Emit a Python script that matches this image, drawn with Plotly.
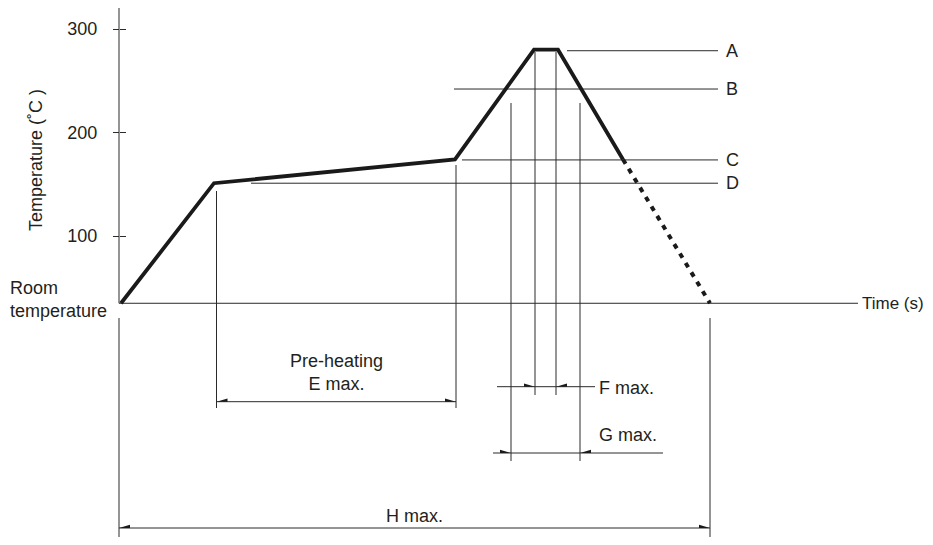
import plotly.graph_objects as go

# ---------------- data ----------------
# reflow profile: time (s, arbitrary scale) and temperature (deg C)
profile_time = [1, 47.5, 168, 207.5, 219.5, 252]
profile_temp = [35, 151, 174, 280, 280, 174]
cooling_time = [252, 295.5]          # dotted tail
cooling_temp = [174, 35]
room_temp = 35

level_names = ["A", "B", "C", "D"]
level_temps = [279, 242, 173.5, 151]
level_start = [224, 167.5, 171.5, 66]   # where each guide line starts (s)
level_end = 299.5

y_ticks = [100, 200, 300]

# dimension spans (s)
E_span = [48.75, 168.5]
F_span = [208, 218.5]
G_span = [196, 230.5]
H_span = [0, 295.5]

# ---------------- layout helpers (pixel <-> data) ----------------
PAGE_W, PAGE_H = 933, 545
BODY = 8                        # default page body margin
W, H = PAGE_W - BODY, PAGE_H - 2 * BODY   # keep the page free of scrollbars
X0, SX = 119.0, 2.0           # page px of t=0, px per second
PY100, SY = 236.0, 1.035      # page px of 100 degC, px per degC


def tx(px):   # page pixel x -> time
    return (px - X0) / SX


def ty(py):   # page pixel y -> temperature
    return 100 + (PY100 - py) / SY


INK = "#231f20"
THIN = dict(color="#2a2a2a", width=1)
FONT = dict(family="Liberation Sans, Arial, Helvetica, sans-serif", size=18, color=INK)

fig = go.Figure()

# profile (solid) and cooling (dotted)
fig.add_trace(go.Scatter(x=profile_time, y=profile_temp, mode="lines",
                         line=dict(color="#1a1a1a", width=3.8),
                         hoverinfo="skip", showlegend=False))
fig.add_trace(go.Scatter(x=cooling_time, y=cooling_temp, mode="lines",
                         line=dict(color="#1a1a1a", width=4, dash="5px,6px"),
                         hoverinfo="skip", showlegend=False))

shapes = []


def seg(x0, y0, x1, y1, line=THIN):
    shapes.append(dict(type="line", xref="x", yref="y", x0=x0, y0=y0, x1=x1, y1=y1,
                       line=line, layer="below"))


def wedge(tip_t, level_t, direction):
    # small half arrowhead above the dimension line; direction -1 = points left
    L, h = 11 / SX, 3.2 / SY
    base = tip_t - direction * L
    path = f"M {tip_t},{level_t} L {base},{level_t + h} L {base},{level_t} Z"
    shapes.append(dict(type="path", xref="x", yref="y", path=path,
                       fillcolor="#1a1a1a", line=dict(width=0)))


# axes lines
seg(0, ty(8), 0, room_temp)                 # temperature axis
seg(0, room_temp, tx(858), room_temp)       # time axis (room temperature)

# temperature level guide lines
for t_start, temp in zip(level_start, level_temps):
    seg(t_start, temp, level_end, temp)

# extension lines
seg(E_span[0], ty(191), E_span[0], ty(408))
seg(E_span[1], ty(165), E_span[1], ty(408))
seg(G_span[0], ty(103), G_span[0], ty(461))
seg(G_span[1], ty(103), G_span[1], ty(461))
seg(F_span[0], ty(52), F_span[0], ty(395))
seg(F_span[1], ty(52), F_span[1], ty(395))
seg(H_span[0], ty(318), H_span[0], ty(545))
seg(H_span[1], ty(318), H_span[1], ty(545))

# dimension lines
yE, yF, yG, yH = ty(401.7), ty(386.7), ty(453), ty(528)
seg(E_span[0], yE, E_span[1], yE)
wedge(E_span[0], yE, -1)
wedge(E_span[1], yE, 1)
seg(tx(497), yF, tx(595), yF)
wedge(F_span[0], yF, 1)
wedge(F_span[1], yF, -1)
seg(tx(493), yG, tx(663), yG)
wedge(G_span[0], yG, 1)
wedge(G_span[1], yG, -1)
seg(H_span[0], yH, H_span[1], yH)
wedge(H_span[0], yH, -1)
wedge(H_span[1], yH, 1)

ann = []


def text(t, x, y, xa="center", ya="middle", align="center", angle=0, size=18):
    ann.append(dict(text=t, x=x, y=y, xref="x", yref="y", xanchor=xa, yanchor=ya,
                    align=align, showarrow=False, font=dict(FONT, size=size),
                    textangle=angle))


for name, temp in zip(level_names, level_temps):
    text(name, tx(724), temp, xa="left")
text("Time (s)", tx(860), room_temp, xa="left", size=17)
text("Room<br>temperature", tx(8), ty(299), xa="left", align="left")
text("Temperature (˚C )", tx(36), ty(160), angle=-90)
text("Pre-heating<br>E max.", (E_span[0] + E_span[1]) / 2, ty(372))
text("F max.", tx(597), ty(388), xa="left")
text("G max.", tx(597), ty(435), xa="left")
text("H max.", (H_span[0] + H_span[1]) / 2, ty(516))

fig.update_layout(
    width=W, height=H,
    margin=dict(l=0, r=0, t=0, b=0, pad=0),
    paper_bgcolor="white", plot_bgcolor="white",
    shapes=shapes, annotations=ann, showlegend=False,
    xaxis=dict(range=[tx(BODY), tx(BODY + W)], visible=False, fixedrange=True),
    yaxis=dict(range=[ty(BODY + H), ty(BODY)], anchor="free", position=(X0 - BODY) / W,
               tickvals=y_ticks, ticks="outside", ticklen=6, tickwidth=1,
               tickcolor="#2a2a2a", tickfont=FONT, ticklabelstandoff=12,
               showgrid=False, zeroline=False, showline=False, fixedrange=True),
    yaxis2=dict(range=[ty(BODY + H), ty(BODY)], overlaying="y", anchor="free",
                position=(X0 - BODY) / W,
                tickvals=y_ticks, ticks="inside", ticklen=6, tickwidth=1,
                tickcolor="#2a2a2a", showticklabels=False,
                showgrid=False, zeroline=False, showline=False, fixedrange=True),
)
# invisible trace to activate yaxis2
fig.add_trace(go.Scatter(x=[0], y=[room_temp], yaxis="y2", mode="markers",
                         marker=dict(opacity=0), hoverinfo="skip", showlegend=False))

fig.write_html("out.html", config={"displayModeBar": False})
